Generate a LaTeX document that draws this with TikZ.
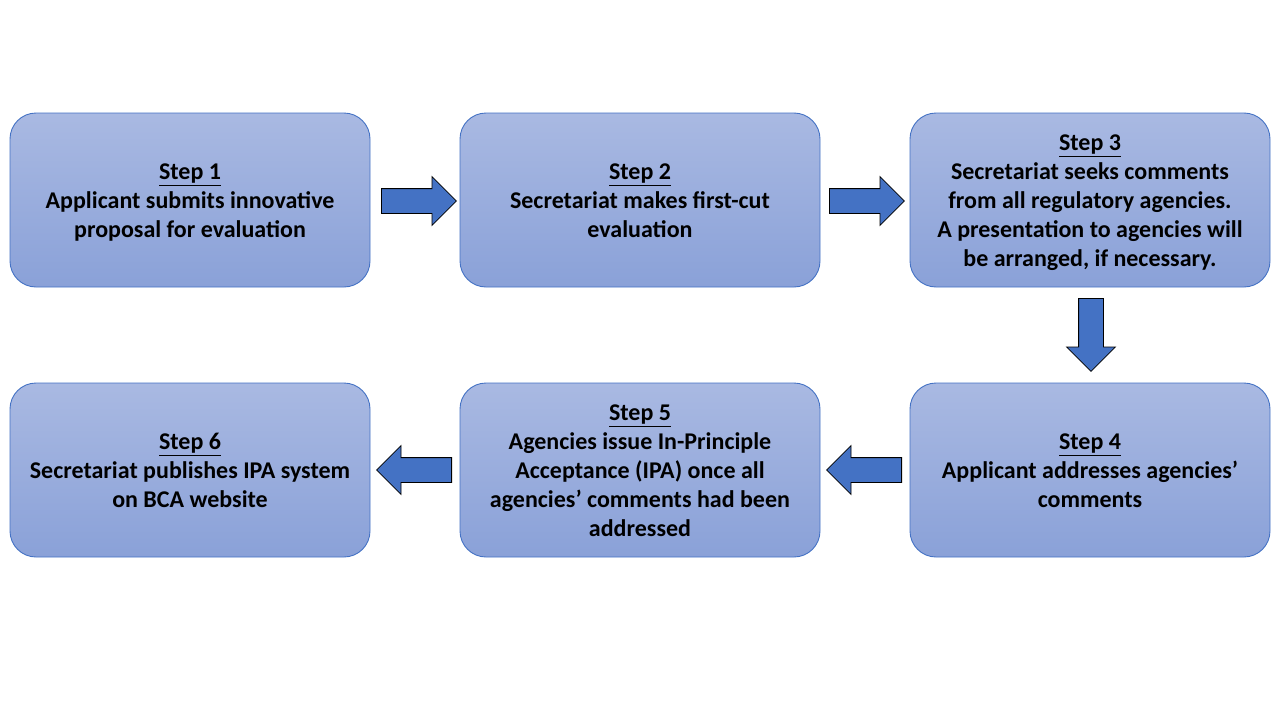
\documentclass[tikz,border=0pt]{standalone}
\usepackage{fontspec}
\setmainfont{Carlito}
\usetikzlibrary{shapes.arrows}
\definecolor{boxtop}{HTML}{A9B9E2}
\definecolor{boxbot}{HTML}{8AA1D8}
\definecolor{edge}{HTML}{4472C4}
\definecolor{arrfill}{HTML}{4472C4}
\newcommand{\bxt}[1]{\raisebox{0pt}[\height][\dimexpr\depth-6pt\relax]{\setlength{\tabcolsep}{0pt}\begin{tabular}{c}#1\end{tabular}}}
\tikzset{
  stepbox/.style={draw=edge, line width=0.9pt, rounded corners=26pt,
    top color=boxtop, bottom color=boxbot,
    minimum width=360pt, minimum height=174pt, inner sep=0pt,
    align=center, font=\fontsize{24pt}{29pt}\selectfont\bfseries},
  blockarrow/.style={single arrow, draw=black, line width=0.8pt, fill=arrfill,
    minimum width=48pt, minimum height=75pt, single arrow head extend=12pt,
    single arrow tip angle=90, inner xsep=0pt, inner ysep=12pt, anchor=tail}
}
\begin{document}
\begin{tikzpicture}[x=1pt,y=-1pt]
\useasboundingbox (0,0) rectangle (1280,720);
\node[stepbox] (s1) at (190,200) {\bxt{\underline{Step 1}\\Applicant submits innovative\\proposal for evaluation}};
\node[stepbox] (s2) at (640,200) {\bxt{\underline{Step 2}\\Secretariat makes first-cut\\evaluation}};
\node[stepbox] (s3) at (1090,200) {\bxt{\underline{Step 3}\\Secretariat seeks comments\\from all regulatory agencies.\\A presentation to agencies will\\be arranged, if necessary.}};
\node[stepbox] (s4) at (1090,470) {\bxt{\underline{Step 4}\\Applicant addresses agencies'\\comments}};
\node[stepbox] (s5) at (640,470) {\bxt{\underline{Step 5}\\Agencies issue In-Principle\\Acceptance (IPA) once all\\agencies' comments had been\\addressed}};
\node[stepbox] (s6) at (190,470) {\bxt{\underline{Step 6}\\Secretariat publishes IPA system\\on BCA website}};
\node[blockarrow] (a12) at (381,201) {};
\node[blockarrow] (a23) at (829,201) {};
\node[blockarrow, rotate=-90, minimum height=73pt] (a34) at (1091,298) {};
\node[blockarrow, rotate=180] (a45) at (902,470) {};
\node[blockarrow, rotate=180] (a56) at (452,470) {};
\end{tikzpicture}
\end{document}
